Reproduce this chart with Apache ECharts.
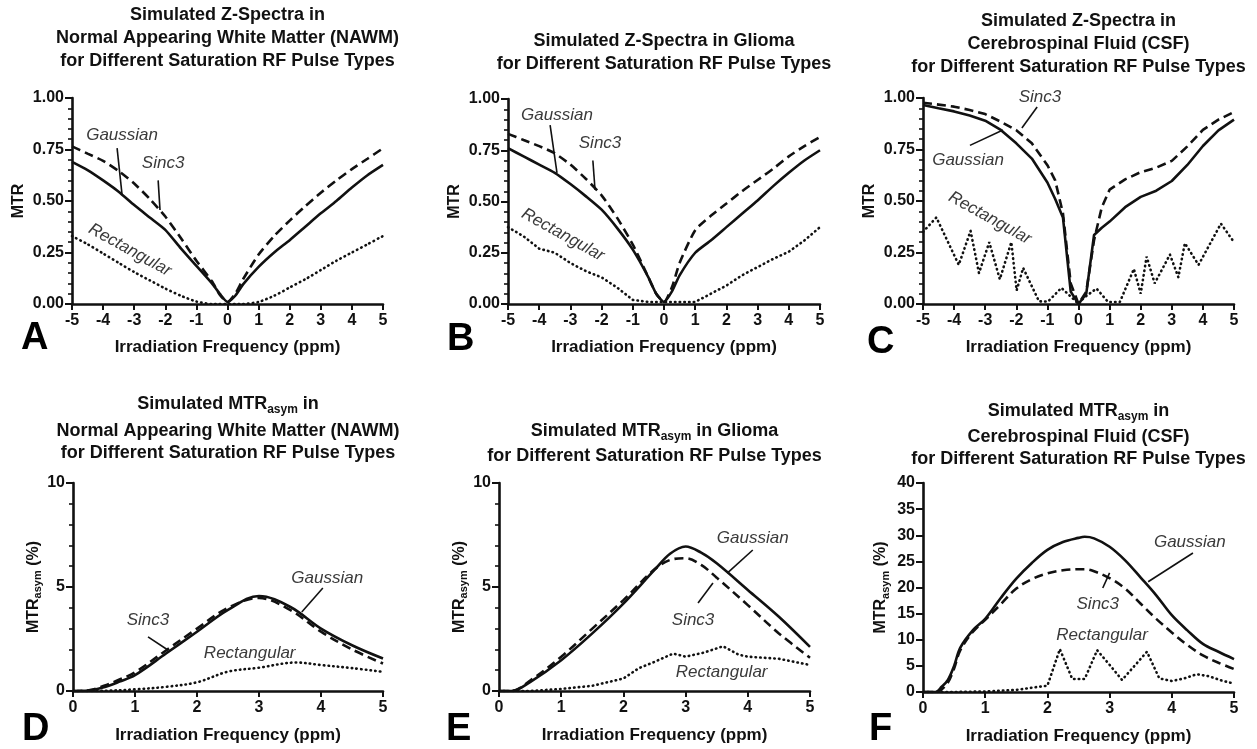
<!DOCTYPE html>
<html>
<head>
<meta charset="utf-8">
<script src="https://cdn.jsdelivr.net/npm/echarts@6/dist/echarts.min.js"></script>
<style>
html, body { margin: 0; padding: 0; background: #ffffff; }
#chart { width: 1257px; height: 749px; }
</style>
</head>
<body>
<div id="chart"></div>
<script>
// ---------- Z-spectra (MTR vs irradiation frequency, ppm) ----------
const zX = [-5, -4.5, -4, -3.5, -3, -2.5, -2, -1.5, -1, -0.5, -0.25, 0, 0.25, 0.5, 1, 1.5, 2, 2.5, 3, 3.5, 4, 4.5, 5];

const nawmSinc3 = [0.765, 0.73, 0.695, 0.645, 0.585, 0.51, 0.425, 0.32, 0.21, 0.11, 0.045, 0.01, 0.05, 0.12, 0.24, 0.33, 0.405, 0.475, 0.54, 0.60, 0.655, 0.705, 0.756];
const nawmGauss = [0.69, 0.65, 0.60, 0.545, 0.48, 0.42, 0.36, 0.27, 0.185, 0.10, 0.05, 0.01, 0.04, 0.095, 0.18, 0.25, 0.31, 0.375, 0.44, 0.50, 0.565, 0.625, 0.675];
const nawmRect  = [0.33, 0.29, 0.245, 0.20, 0.155, 0.115, 0.075, 0.04, 0.012, 0.0, 0.0, 0.0, 0.0, 0.0, 0.01, 0.04, 0.08, 0.12, 0.165, 0.21, 0.25, 0.29, 0.33];

const gliomaSinc3 = [0.83, 0.80, 0.77, 0.735, 0.68, 0.61, 0.53, 0.42, 0.29, 0.13, 0.05, 0.01, 0.08, 0.20, 0.36, 0.43, 0.49, 0.55, 0.605, 0.66, 0.72, 0.77, 0.815];
const gliomaGauss = [0.76, 0.72, 0.68, 0.64, 0.585, 0.525, 0.46, 0.37, 0.265, 0.13, 0.05, 0.01, 0.06, 0.14, 0.25, 0.31, 0.375, 0.44, 0.505, 0.575, 0.64, 0.70, 0.75];
const gliomaRect  = [0.375, 0.33, 0.27, 0.25, 0.20, 0.16, 0.13, 0.08, 0.02, 0.01, 0.01, 0.01, 0.01, 0.01, 0.01, 0.05, 0.09, 0.14, 0.18, 0.22, 0.255, 0.31, 0.375];

const csfX = [-5, -4.5, -4, -3.5, -3, -2.5, -2, -1.5, -1, -0.75, -0.5, -0.25, 0, 0.25, 0.5, 0.75, 1, 1.5, 2, 2.5, 3, 3.5, 4, 4.5, 5];
const csfSinc3 = [0.977, 0.968, 0.958, 0.942, 0.922, 0.885, 0.844, 0.78, 0.674, 0.60, 0.44, 0.10, 0.0, 0.06, 0.31, 0.47, 0.555, 0.605, 0.64, 0.662, 0.695, 0.765, 0.845, 0.895, 0.932];
const csfGauss = [0.966, 0.95, 0.935, 0.915, 0.89, 0.845, 0.78, 0.706, 0.59, 0.51, 0.42, 0.06, 0.0, 0.05, 0.335, 0.37, 0.40, 0.47, 0.52, 0.55, 0.597, 0.675, 0.767, 0.843, 0.895];
const csfRectX = [-5, -4.57, -3.85, -3.47, -3.2, -2.87, -2.53, -2.16, -1.99, -1.78, -1.27, -0.98, -0.55, -0.17, 0, 0.17, 0.58, 0.95, 1.33, 1.78, 2.0, 2.19, 2.45, 2.94, 3.21, 3.42, 3.86, 4.58, 5];
const csfRectY = [0.35, 0.42, 0.19, 0.355, 0.15, 0.30, 0.12, 0.30, 0.066, 0.175, 0.013, 0.012, 0.078, 0.025, 0.0, 0.03, 0.075, 0.01, 0.01, 0.17, 0.05, 0.23, 0.10, 0.24, 0.13, 0.295, 0.19, 0.39, 0.30];

// ---------- MTRasym (%) vs irradiation frequency, ppm ----------
const nawmAsymX = [0, 0.25, 0.5, 0.75, 1, 1.5, 2, 2.5, 3, 3.5, 4, 4.5, 5];
const nawmAsymGauss = [0, 0.02, 0.18, 0.45, 0.76, 1.8, 2.85, 3.9, 4.57, 4.05, 3.0, 2.2, 1.56];
const nawmAsymSinc3 = [0, 0.03, 0.25, 0.55, 0.9, 1.95, 3.0, 4.0, 4.47, 3.9, 2.85, 2.0, 1.32];
const nawmAsymRectX = [0, 0.5, 1, 1.5, 2, 2.5, 3, 3.6, 4, 4.5, 5];
const nawmAsymRectY = [0, 0.01, 0.08, 0.2, 0.42, 0.93, 1.12, 1.37, 1.25, 1.1, 0.92];

const gliomaAsymX = [0, 0.2, 0.5, 1, 1.5, 2, 2.5, 2.75, 3, 3.25, 3.5, 4, 4.5, 5];
const gliomaAsymGauss = [0, 0, 0.43, 1.48, 2.77, 4.2, 5.82, 6.6, 6.95, 6.65, 6.14, 4.86, 3.57, 2.12];
const gliomaAsymSinc3 = [0, 0, 0.5, 1.65, 3.0, 4.37, 5.85, 6.3, 6.38, 6.06, 5.45, 4.13, 2.77, 1.6];
const gliomaAsymRectX = [0, 0.5, 0.75, 1, 1.5, 2, 2.25, 2.5, 2.8, 3, 3.3, 3.6, 3.85, 4, 4.5, 5];
const gliomaAsymRectY = [0, 0, 0.05, 0.1, 0.25, 0.6, 1.1, 1.4, 1.8, 1.65, 1.85, 2.15, 1.75, 1.65, 1.55, 1.25];

const csfAsymX = [0, 0.2, 0.3, 0.4, 0.5, 0.6, 0.8, 1, 1.25, 1.5, 1.75, 2, 2.25, 2.5, 2.6, 2.75, 3, 3.25, 3.5, 3.75, 4, 4.25, 4.5, 4.75, 5];
const csfAsymGauss = [0, 0, 1.0, 2.3, 5.0, 8.5, 11.8, 14.0, 18.0, 21.7, 24.7, 27.2, 28.7, 29.5, 29.7, 29.4, 27.8, 25.2, 21.9, 18.5, 14.7, 11.8, 9.2, 7.7, 6.3];
const csfAsymSinc3 = [0, 0, 0.5, 1.8, 4.5, 8.0, 11.5, 13.8, 16.8, 19.8, 21.6, 22.7, 23.3, 23.5, 23.5, 23.1, 21.8, 19.8, 16.9, 14.0, 11.4, 9.0, 7.0, 5.6, 4.4];
const csfAsymRectX = [0, 0.5, 1, 1.5, 1.8, 2.0, 2.2, 2.4, 2.6, 2.8, 3.0, 3.2, 3.4, 3.6, 3.8, 4.0, 4.2, 4.4, 4.6, 4.8, 5];
const csfAsymRectY = [0, 0, 0.1, 0.4, 0.9, 1.2, 8.2, 2.5, 2.5, 8.0, 5.2, 2.3, 5.0, 7.7, 2.6, 2.1, 2.6, 3.4, 3.0, 2.2, 1.6];

// ---------- axis tick ranges ----------
const zTicks = { min: -5, max: 5, step: 1, yMin: 0, yMax: 1, yStep: 0.25 };
const asymTicks = { min: 0, max: 5, step: 1 };
const asymYMax = [10, 10, 40];
const asymYStep = [5, 5, 5];

// ---------- presentation ----------
const FONT = '"Liberation Sans", Arial, Helvetica, sans-serif';
const INK = '#111111';
const NOTE_INK = '#3a3a3a';

const gridBoxes = [
  { left: 72,  top: 98,  width: 311, height: 206 },
  { left: 508, top: 99,  width: 312, height: 205 },
  { left: 923, top: 98,  width: 311, height: 206 },
  { left: 73,  top: 483, width: 310, height: 208 },
  { left: 499, top: 483, width: 311, height: 208 },
  { left: 923, top: 483, width: 311, height: 209 }
];

function pairs(xs, ys) { return xs.map((x, i) => [x, ys[i]]); }

const styles = {
  solid:  { type: 'solid', width: 2.6 },
  dashed: { type: [9, 5], width: 2.6 },
  dotted: { type: [0.5, 4.2], width: 2.6, cap: 'round' }
};

function curve(name, g, xs, ys, kind, smooth) {
  return {
    name: name, type: 'line', xAxisIndex: g, yAxisIndex: g,
    data: pairs(xs, ys), showSymbol: false, symbol: 'none',
    smooth: smooth || false,
    lineStyle: Object.assign({ color: INK }, styles[kind]),
    silent: true, animation: false, z: kind === 'dotted' ? 2 : 3
  };
}

const axisLineStyle = { color: INK, width: 2.6 };
const tickLabel = { color: INK, fontSize: 16, fontWeight: 'bold', fontFamily: FONT };
const nameStyle = { color: INK, fontSize: 17, fontWeight: 'bold', fontFamily: FONT };

function xAxisFor(g, r, gap) {
  return {
    type: 'value', gridIndex: g, min: r.min, max: r.max, interval: r.step,
    axisLine: { onZero: false, lineStyle: axisLineStyle },
    axisTick: { length: 6, lineStyle: { color: INK, width: 2 } },
    axisLabel: Object.assign({ margin: 9 }, tickLabel),
    splitLine: { show: false },
    name: 'Irradiation Frequency (ppm)', nameLocation: 'middle', nameGap: gap,
    nameTextStyle: nameStyle
  };
}

const asymName = '{m|MTR}{s|asym}{m| (%)}';
const asymRich = {
  m: { fontSize: 16, fontWeight: 'bold', fontFamily: FONT, color: INK, lineHeight: 20 },
  s: { fontSize: 11, fontWeight: 'bold', fontFamily: FONT, color: INK, lineHeight: 12, padding: [9, 0, 0, 0], verticalAlign: 'bottom' }
};

function yAxisZ(g) {
  return {
    type: 'value', gridIndex: g, min: zTicks.yMin, max: zTicks.yMax, interval: zTicks.yStep,
    axisLine: { show: true, onZero: false, lineStyle: axisLineStyle },
    axisTick: { show: true, length: 7, lineStyle: { color: INK, width: 2 } },
    minorTick: { show: true, splitNumber: 5, length: 4, lineStyle: { color: INK, width: 1.6 } },
    axisLabel: Object.assign({ margin: 8, formatter: v => v.toFixed(2) }, tickLabel),
    splitLine: { show: false }, minorSplitLine: { show: false },
    name: 'MTR', nameLocation: 'middle', nameGap: 45,
    nameTextStyle: { color: INK, fontSize: 16, fontWeight: 'bold', fontFamily: FONT }
  };
}

function yAxisAsym(g, k, gap) {
  return {
    type: 'value', gridIndex: g, min: 0, max: asymYMax[k], interval: asymYStep[k],
    axisLine: { show: true, onZero: false, lineStyle: axisLineStyle },
    axisTick: { show: true, length: 7, lineStyle: { color: INK, width: 2 } },
    minorTick: { show: k < 2, splitNumber: 5, length: 4, lineStyle: { color: INK, width: 1.6 } },
    axisLabel: Object.assign({ margin: 8 }, tickLabel),
    splitLine: { show: false }, minorSplitLine: { show: false },
    name: asymName, nameLocation: 'middle', nameGap: gap,
    nameTextStyle: { rich: asymRich }
  };
}

const titleText = { color: INK, fontSize: 18, fontWeight: 'bold', fontFamily: FONT, lineHeight: 23 };
const titleRich = {
  m: { color: INK, fontSize: 18, fontWeight: 'bold', fontFamily: FONT, lineHeight: 23 },
  s: { color: INK, fontSize: 12, fontWeight: 'bold', fontFamily: FONT, lineHeight: 13, padding: [10, 0, 0, 0], verticalAlign: 'bottom' }
};
function heading(text, cx, top, lh) {
  return {
    text: text, left: cx, top: top, textAlign: 'center', padding: 0, itemGap: 0,
    textStyle: Object.assign({}, titleText, { lineHeight: lh || 23, rich: titleRich })
  };
}

const option = {
  backgroundColor: '#ffffff',
  animation: false,
  title: [
    heading('Simulated Z-Spectra in\nNormal Appearing White Matter (NAWM)\nfor Different Saturation RF Pulse Types', 227.5, 3.5),
    heading('Simulated Z-Spectra in Glioma\nfor Different Saturation RF Pulse Types', 664, 29.5),
    heading('Simulated Z-Spectra in\nCerebrospinal Fluid (CSF)\nfor Different Saturation RF Pulse Types', 1078.5, 10),
    heading('{m|Simulated MTR}{s|asym}{m| in}', 228, 392.5),
    heading('Normal Appearing White Matter (NAWM)\nfor Different Saturation RF Pulse Types', 228, 420, 22),
    heading('{m|Simulated MTR}{s|asym}{m| in Glioma}', 654.5, 420),
    heading('for Different Saturation RF Pulse Types', 654.5, 445.5, 22),
    heading('{m|Simulated MTR}{s|asym}{m| in}', 1078.5, 400),
    heading('Cerebrospinal Fluid (CSF)\nfor Different Saturation RF Pulse Types', 1078.5, 426, 22)
  ],
  grid: gridBoxes.map(b => Object.assign({ containLabel: false }, b)),
  xAxis: [
    xAxisFor(0, zTicks, 35), xAxisFor(1, zTicks, 35), xAxisFor(2, zTicks, 35),
    xAxisFor(3, asymTicks, 36), xAxisFor(4, asymTicks, 36), xAxisFor(5, asymTicks, 36)
  ],
  yAxis: [
    yAxisZ(0), yAxisZ(1), yAxisZ(2),
    yAxisAsym(3, 0, 29), yAxisAsym(4, 1, 29), yAxisAsym(5, 2, 32)
  ],
  series: [
    curve('Rectangular', 0, zX, nawmRect, 'dotted', 0.2),
    curve('Gaussian', 0, zX, nawmGauss, 'solid', 0.2),
    curve('Sinc3', 0, zX, nawmSinc3, 'dashed', 0.2),

    curve('Rectangular', 1, zX, gliomaRect, 'dotted', false),
    curve('Gaussian', 1, zX, gliomaGauss, 'solid', 0.2),
    curve('Sinc3', 1, zX, gliomaSinc3, 'dashed', 0.2),

    curve('Rectangular', 2, csfRectX, csfRectY, 'dotted', false),
    curve('Gaussian', 2, csfX, csfGauss, 'solid', false),
    curve('Sinc3', 2, csfX, csfSinc3, 'dashed', false),

    curve('Rectangular', 3, nawmAsymRectX, nawmAsymRectY, 'dotted', 0.35),
    curve('Gaussian', 3, nawmAsymX, nawmAsymGauss, 'solid', 0.35),
    curve('Sinc3', 3, nawmAsymX, nawmAsymSinc3, 'dashed', 0.35),

    curve('Rectangular', 4, gliomaAsymRectX, gliomaAsymRectY, 'dotted', false),
    curve('Gaussian', 4, gliomaAsymX, gliomaAsymGauss, 'solid', 0.35),
    curve('Sinc3', 4, gliomaAsymX, gliomaAsymSinc3, 'dashed', 0.35),

    curve('Rectangular', 5, csfAsymRectX, csfAsymRectY, 'dotted', false),
    curve('Gaussian', 5, csfAsymX, csfAsymGauss, 'solid', 0.35),
    curve('Sinc3', 5, csfAsymX, csfAsymSinc3, 'dashed', 0.35)
  ]
};

const chart = echarts.init(document.getElementById('chart'), null, { renderer: 'canvas' });
chart.setOption(option);

// ---------- curve labels with leader lines, placed in data coordinates ----------
const notes = [
  { g: 0, t: 'Gaussian', p: [-3.39, 0.82] },
  { g: 0, t: 'Sinc3', p: [-2.07, 0.684] },
  { g: 0, t: 'Rectangular', p: [-3.14, 0.262], r: -29 },
  { g: 1, t: 'Gaussian', p: [-3.43, 0.92] },
  { g: 1, t: 'Sinc3', p: [-2.05, 0.785] },
  { g: 1, t: 'Rectangular', p: [-3.24, 0.337], r: -29 },
  { g: 2, t: 'Sinc3', p: [-1.24, 1.005] },
  { g: 2, t: 'Gaussian', p: [-3.55, 0.70] },
  { g: 2, t: 'Rectangular', p: [-2.85, 0.417], r: -29 },
  { g: 3, t: 'Sinc3', p: [1.21, 3.41] },
  { g: 3, t: 'Gaussian', p: [4.1, 5.43] },
  { g: 3, t: 'Rectangular', p: [2.85, 1.83] },
  { g: 4, t: 'Gaussian', p: [4.08, 7.36] },
  { g: 4, t: 'Sinc3', p: [3.12, 3.41] },
  { g: 4, t: 'Rectangular', p: [3.58, 0.91] },
  { g: 5, t: 'Gaussian', p: [4.29, 28.7] },
  { g: 5, t: 'Sinc3', p: [2.81, 16.7] },
  { g: 5, t: 'Rectangular', p: [2.88, 10.9] }
];
const leaders = [
  { g: 0, a: [-3.55, 0.757], b: [-3.39, 0.53] },
  { g: 0, a: [-2.23, 0.60], b: [-2.17, 0.456] },
  { g: 1, a: [-3.65, 0.873], b: [-3.43, 0.64] },
  { g: 1, a: [-2.28, 0.70], b: [-2.21, 0.556] },
  { g: 2, a: [-1.33, 0.956], b: [-1.82, 0.854] },
  { g: 2, a: [-3.49, 0.77], b: [-2.43, 0.845] },
  { g: 3, a: [1.21, 2.6], b: [1.53, 1.97] },
  { g: 3, a: [4.03, 4.95], b: [3.69, 3.8] },
  { g: 4, a: [4.08, 6.78], b: [3.67, 5.67] },
  { g: 4, a: [3.2, 4.23], b: [3.44, 5.19] },
  { g: 5, a: [4.34, 26.6], b: [3.62, 21.1] },
  { g: 5, a: [2.89, 19.9], b: [3.0, 22.8] }
];
const panelLetters = [
  { t: 'A', x: 21, y: 339 }, { t: 'B', x: 447, y: 340 }, { t: 'C', x: 867, y: 343 },
  { t: 'D', x: 22, y: 730 }, { t: 'E', x: 446, y: 730 }, { t: 'F', x: 869, y: 730 }
];

const px = (g, v) => chart.convertToPixel({ gridIndex: g }, v);
const graphics = [];
leaders.forEach(l => {
  const a = px(l.g, l.a), b = px(l.g, l.b);
  graphics.push({
    type: 'line', silent: true, z: 10,
    shape: { x1: a[0], y1: a[1], x2: b[0], y2: b[1] },
    style: { stroke: INK, lineWidth: 1.6 }
  });
});
notes.forEach(n => {
  const c = px(n.g, n.p);
  graphics.push({
    type: 'text', silent: true, z: 10, x: c[0], y: c[1],
    rotation: (n.r || 0) * Math.PI / 180,
    style: {
      text: n.t, fill: NOTE_INK, fontSize: 17, fontStyle: 'italic', fontFamily: FONT,
      align: 'center', verticalAlign: 'middle', textAlign: 'center', textVerticalAlign: 'middle'
    }
  });
});
panelLetters.forEach(l => {
  graphics.push({
    type: 'text', silent: true, z: 10, x: l.x, y: l.y,
    style: {
      text: l.t, fill: '#000000', fontSize: 38, fontWeight: 'bold', fontFamily: FONT,
      align: 'left', verticalAlign: 'middle', textAlign: 'left', textVerticalAlign: 'middle'
    }
  });
});
chart.setOption({ graphic: graphics });
</script>
</body>
</html>
